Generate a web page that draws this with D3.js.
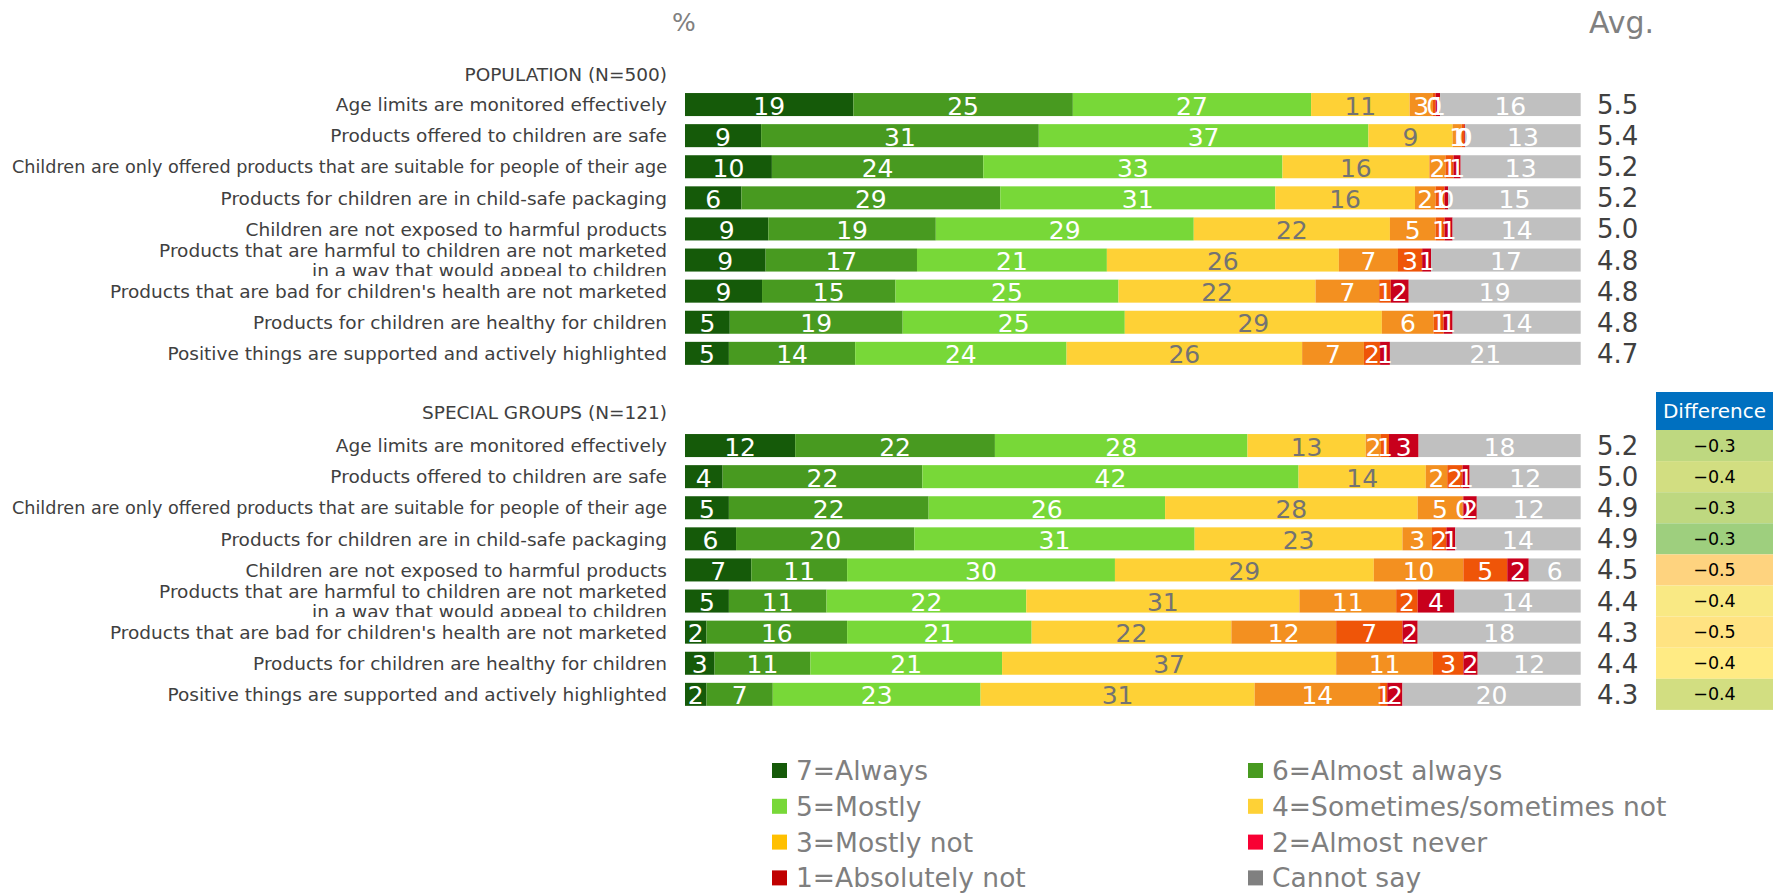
<!DOCTYPE html>
<html>
<head>
<meta charset="utf-8">
<script src="https://cdn.jsdelivr.net/npm/d3@7/dist/d3.min.js"></script>
<style>
  html, body { margin: 0; padding: 0; background: #ffffff; }
  svg { display: block; font-family: "DejaVu Sans", Verdana, sans-serif; }
</style>
</head>
<body>
<svg id="chart" width="1773" height="894"></svg>
<script>
// Statements rated on a 1–7 scale
const categories = [
  "Age limits are monitored effectively",
  "Products offered to children are safe",
  "Children are only offered products that are suitable for people of their age",
  "Products for children are in child-safe packaging",
  "Children are not exposed to harmful products",
  "Products that are harmful to children are not marketed\nin a way that would appeal to children",
  "Products that are bad for children's health are not marketed",
  "Products for children are healthy for children",
  "Positive things are supported and actively highlighted"
];

const responses = [
  "7=Always", "6=Almost always", "5=Mostly", "4=Sometimes/sometimes not",
  "3=Mostly not", "2=Almost never", "1=Absolutely not", "Cannot say"
];

const sectionTitles = ["POPULATION (N=500)", "SPECIAL GROUPS (N=121)"];

// Shares (%) per response, in the order of `responses`
const populationValues = [
  [18.8, 24.5, 26.6, 11.0, 2.6, 0.3, 0.5, 15.7],
  [8.5, 31.0, 36.8, 9.4, 1.0, 0.3, 0.1, 12.9],
  [9.7, 23.6, 33.4, 16.4, 1.8, 0.9, 0.8, 13.4],
  [6.3, 28.9, 30.7, 15.6, 2.3, 1.0, 0.4, 14.8],
  [9.3, 18.7, 28.8, 21.9, 5.1, 1.0, 0.9, 14.3],
  [9.0, 16.9, 21.2, 25.9, 6.6, 2.7, 1.0, 16.7],
  [8.6, 14.9, 24.9, 22.0, 7.1, 1.3, 2.0, 19.2],
  [5.0, 19.3, 24.8, 28.7, 5.8, 1.1, 1.0, 14.3],
  [4.9, 14.1, 23.6, 26.3, 6.9, 1.8, 1.1, 21.3]
];

const specialValues = [
  [12.3, 22.3, 28.2, 13.2, 1.7, 0.9, 3.3, 18.1],
  [4.2, 22.3, 42.0, 14.2, 2.4, 1.7, 0.8, 12.4],
  [4.9, 22.3, 26.4, 28.2, 5.0, 0.1, 1.5, 11.6],
  [5.7, 19.9, 31.3, 23.2, 3.3, 1.6, 1.0, 14.0],
  [7.4, 10.7, 29.9, 28.9, 10.0, 4.9, 2.4, 5.8],
  [4.9, 10.9, 22.3, 30.5, 10.8, 2.4, 4.1, 14.1],
  [2.4, 15.7, 20.6, 22.3, 11.7, 7.4, 1.7, 18.2],
  [3.3, 10.7, 21.4, 37.3, 10.8, 3.4, 1.6, 11.5],
  [2.4, 7.4, 23.2, 30.6, 14.0, 0.8, 1.7, 19.9]
];

const populationAvg = [5.5, 5.4, 5.2, 5.2, 5.0, 4.8, 4.8, 4.8, 4.7];
const specialAvg = [5.2, 5.0, 4.9, 4.9, 4.5, 4.4, 4.3, 4.4, 4.3];

// Special groups minus population
const differences = [-0.34, -0.37, -0.34, -0.29, -0.47, -0.43, -0.45, -0.44, -0.37];

// Styling
const barColors = ["#155a09", "#489a20", "#78d838", "#fed136", "#f39020", "#ef5508", "#c8001c", "#c0c0c0"];
const legendColors = ["#155a09", "#489a20", "#78d838", "#fed136", "#ffc000", "#f80033", "#c00000", "#808080"];
const labelColors = ["#ffffff", "#ffffff", "#ffffff", "#737373", "#ffffff", "#ffffff", "#ffffff", "#ffffff"];

const svg = d3.select("#chart");
svg.append("rect").attr("width", 1773).attr("height", 894).attr("fill", "#ffffff");

const x = d3.scaleLinear().domain([0, 100]).range([685, 1580.7]);
const step = 31.1;
const labelRight = 667;
const labelMaxWidth = 655;
const avgX = 1597;

const diffColor = d3.scaleLinear()
  .domain([-0.60, -0.44, -0.20])
  .range(["#F8696B", "#FFEB84", "#63BE7B"])
  .interpolate(d3.interpolateRgb);
const fmtDiff = d3.format(".1f");
const fmtAvg = d3.format(".1f");

// Squeeze a line of text horizontally when it is wider than the room available
function fitWidth(sel, maxW) {
  sel.each(function () {
    const len = this.getComputedTextLength();
    if (len > maxW) {
      d3.select(this).attr("textLength", maxW).attr("lengthAdjust", "spacingAndGlyphs");
    }
  });
}

// Column headers
svg.append("text").attr("x", 684).attr("y", 31).attr("text-anchor", "middle")
  .attr("font-size", 25).attr("fill", "#808080").text("%");
svg.append("text").attr("x", 1589).attr("y", 33)
  .attr("font-size", 30).attr("fill", "#808080").text("Avg.");

function drawSection(idx, values, avgs, top, titleY) {
  const y = d3.scaleBand()
    .domain(d3.range(categories.length))
    .range([top, top + categories.length * step])
    .paddingInner(0.26)
    .paddingOuter(0.13);
  const bw = y.bandwidth();
  const g = svg.append("g");

  // section title
  g.append("text")
    .attr("x", labelRight).attr("y", titleY)
    .attr("text-anchor", "end")
    .attr("font-size", 18.5).attr("fill", "#404040")
    .text(sectionTitles[idx]);

  const rows = g.selectAll("g.row")
    .data(values.map((v, i) => ({ i, v, avg: avgs[i], label: categories[i] })))
    .join("g").attr("class", "row");

  // category labels (clipped at the bottom of the row)
  rows.each(function (d) {
    const cy = y(d.i) + bw / 2;
    const clipId = `clip-${idx}-${d.i}`;
    svg.append("clipPath").attr("id", clipId)
      .append("rect").attr("x", 0).attr("y", cy - 45).attr("width", 680).attr("height", 61);
    const lines = d.label.split("\n");
    const t = d3.select(this).append("text")
      .attr("clip-path", `url(#${clipId})`)
      .attr("text-anchor", "end")
      .attr("font-size", 18.5).attr("fill", "#404040");
    if (lines.length === 1) {
      t.append("tspan").attr("x", labelRight).attr("y", cy + 6.7).text(lines[0]);
    } else {
      t.append("tspan").attr("x", labelRight).attr("y", cy - 3).text(lines[0]);
      t.append("tspan").attr("x", labelRight).attr("y", cy + 16.5).text(lines[1]);
    }
    fitWidth(t.selectAll("tspan"), labelMaxWidth);
  });

  // stacked segments
  rows.each(function (d) {
    const stack = [];
    let acc = 0;
    d.v.forEach((val, k) => { stack.push({ k, val, x0: acc, x1: acc + val }); acc += val; });
    const cy = y(d.i) + bw / 2;
    const sel = d3.select(this);
    sel.selectAll("rect.seg").data(stack).join("rect").attr("class", "seg")
      .attr("x", s => x(s.x0))
      .attr("y", y(d.i))
      .attr("width", s => x(s.x1) - x(s.x0))
      .attr("height", bw)
      .attr("fill", s => barColors[s.k]);
    sel.selectAll("text.val").data(stack).join("text").attr("class", "val")
      .attr("x", s => (x(s.x0) + x(s.x1)) / 2)
      .attr("y", cy + 10)
      .attr("text-anchor", "middle")
      .attr("font-size", 25)
      .attr("fill", s => labelColors[s.k])
      .text(s => Math.round(s.val));
    sel.append("text")
      .attr("x", avgX).attr("y", cy + 9.5)
      .attr("font-size", 26).attr("fill", "#404040")
      .text(fmtAvg(d.avg));
  });

  return y;
}

drawSection(0, populationValues, populationAvg, 89, 81);
const yS = drawSection(1, specialValues, specialAvg, 430, 418.5);

// Difference column
const diffX = 1656, diffW = 117;
svg.append("rect").attr("x", diffX).attr("y", 392).attr("width", diffW).attr("height", 38).attr("fill", "#0070c0");
svg.append("text").attr("x", diffX + diffW / 2).attr("y", 418).attr("text-anchor", "middle")
  .attr("font-size", 20).attr("fill", "#ffffff").text("Difference");

const cells = svg.append("g").selectAll("g").data(differences).join("g");
cells.append("rect")
  .attr("x", diffX)
  .attr("y", (d, i) => yS(i) - yS.step() * 0.13)
  .attr("width", diffW)
  .attr("height", yS.step())
  .attr("fill", d => diffColor(d));
cells.append("text")
  .attr("x", diffX + diffW / 2)
  .attr("y", (d, i) => yS(i) + yS.bandwidth() / 2 + 6)
  .attr("text-anchor", "middle")
  .attr("font-size", 17.5).attr("fill", "#000000")
  .text(d => fmtDiff(d));

// Legend: two columns, row-major
const legendCols = [772, 1248];
const legendY0 = 770.5, legendStep = 35.8;
const leg = svg.append("g").selectAll("g").data(responses).join("g")
  .attr("transform", (d, i) => `translate(${legendCols[i % 2]},${legendY0 + Math.floor(i / 2) * legendStep})`);
leg.append("rect").attr("x", 0).attr("y", -7.5).attr("width", 15).attr("height", 15)
  .attr("fill", (d, i) => legendColors[i]);
leg.append("text").attr("x", 24).attr("y", 9.5)
  .attr("font-size", 26.5).attr("fill", "#7f7f7f")
  .text(d => d);
</script>
</body>
</html>
